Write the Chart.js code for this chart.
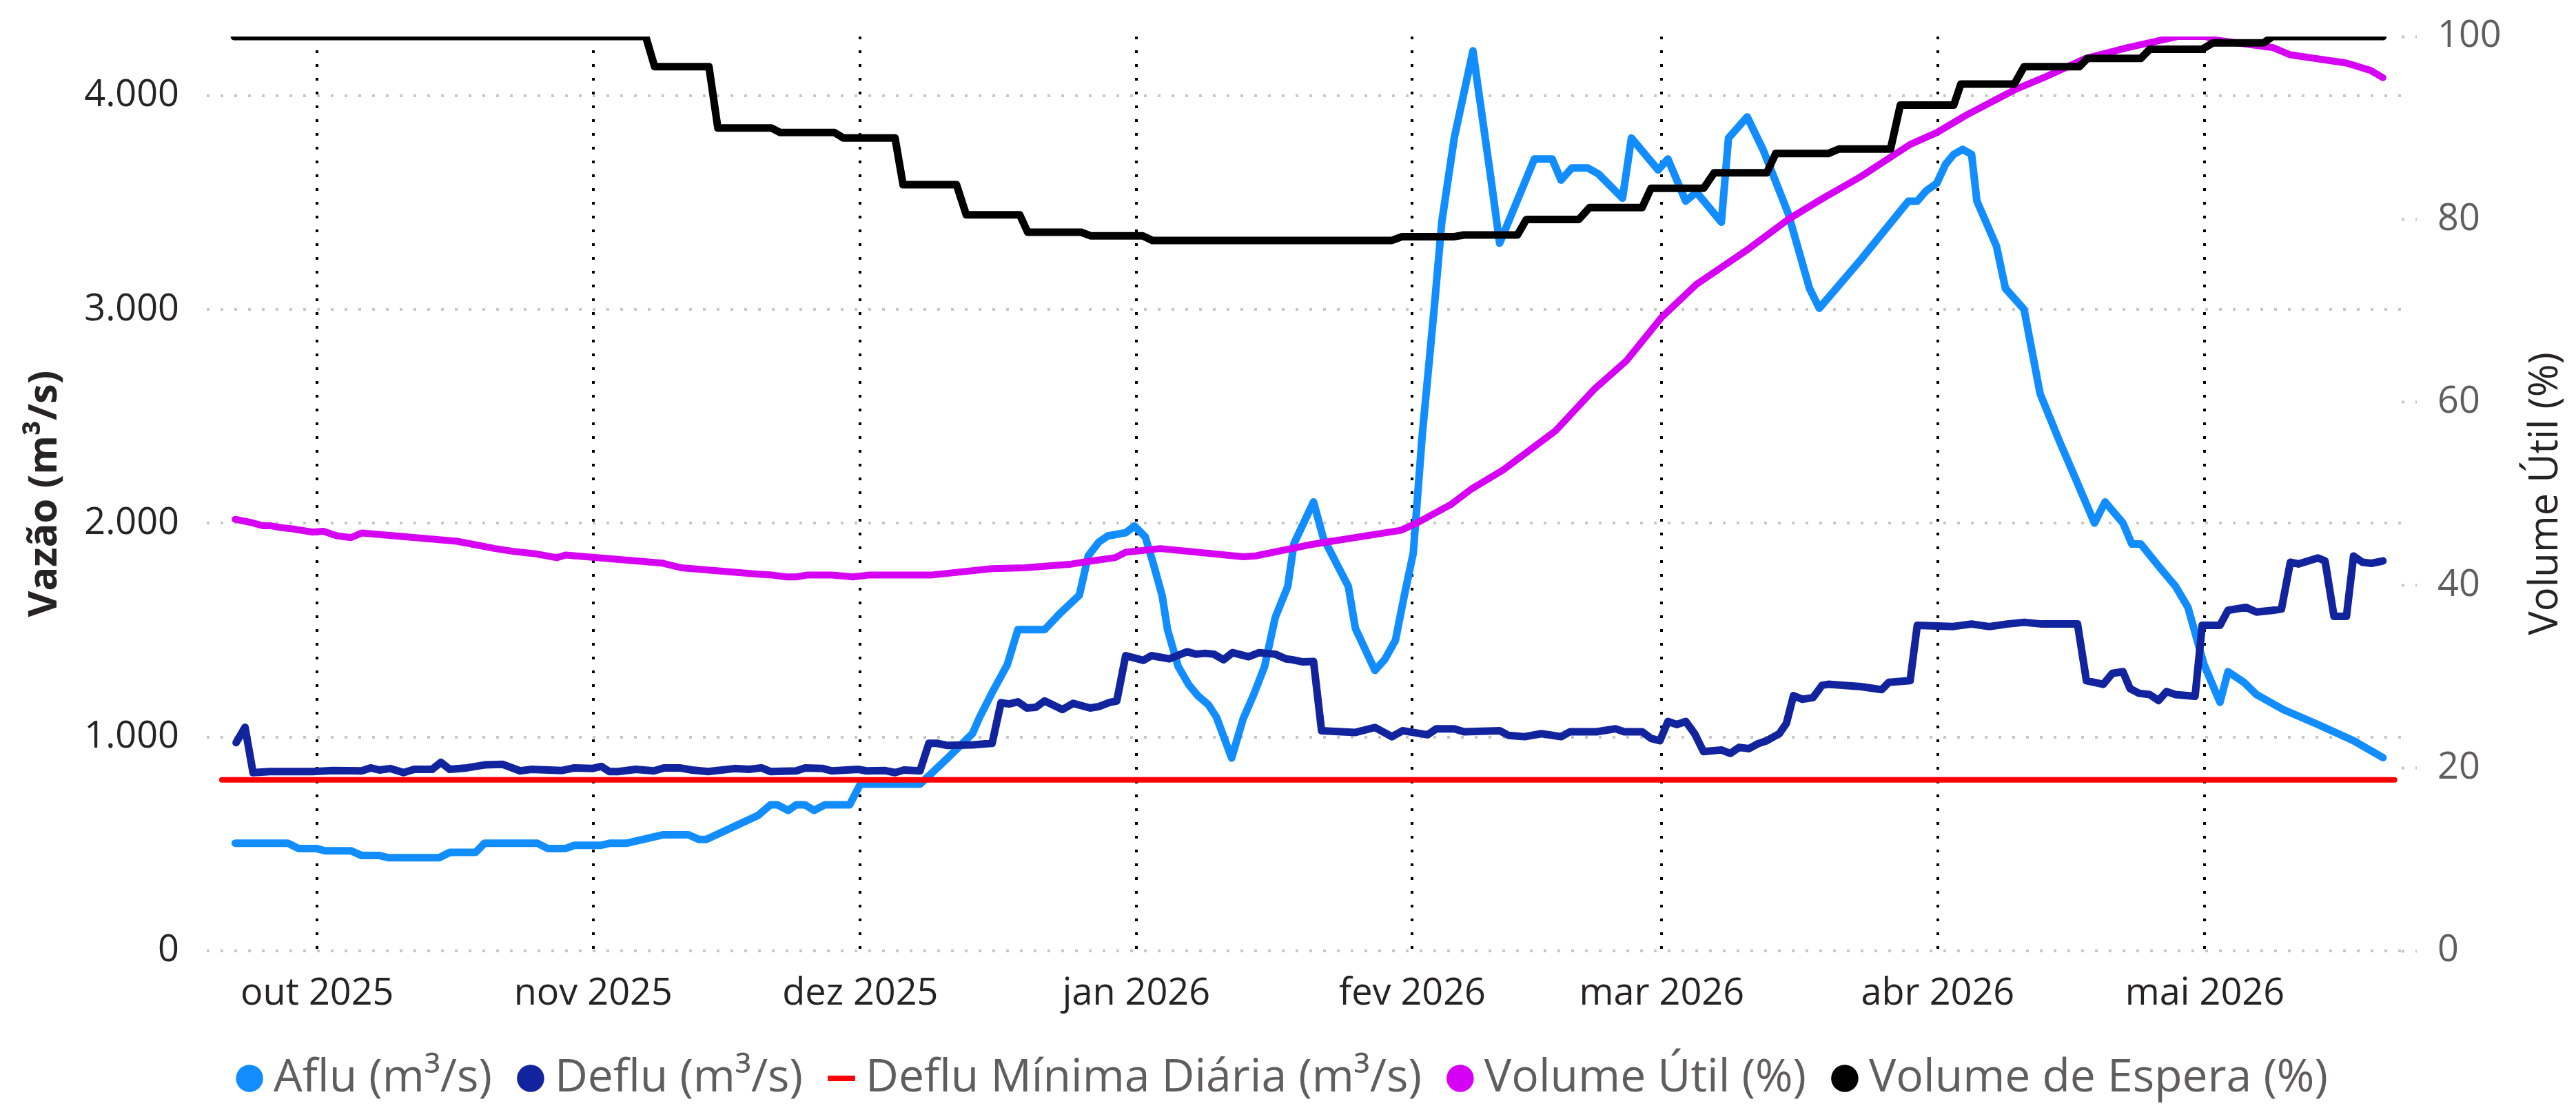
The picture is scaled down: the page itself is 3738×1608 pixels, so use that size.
<!DOCTYPE html>
<html>
<head>
<meta charset="utf-8">
<script src="https://cdn.jsdelivr.net/npm/chart.js@4.4.0/dist/chart.umd.min.js"></script>
<style>
    html, body { margin: 0; padding: 0; background: #ffffff; }
    #wrap { width: 3738px; height: 1608px; }
</style>
</head>
<body>
<div id="wrap"><canvas id="vazao_chart"></canvas></div>
<script>
// Days are counted from 1 Oct 2025 (day 0)
var monthDays = [0, 31, 61, 92, 123, 151, 182, 212];
var monthLabels = ["out 2025", "nov 2025", "dez 2025", "jan 2026", "fev 2026", "mar 2026", "abr 2026", "mai 2026"];
var vazaoTicks = [0, 1000, 2000, 3000, 4000];
var volumeTicks = [0, 20, 40, 60, 80, 100];

// Aflu (m3/s)
var afluDays = [-9.2, -3.3, -2.1, -0.1, 0.9, 3.8, 5.0, 7.0, 8.0, 13.7,
    14.9, 17.8, 18.8, 24.7, 25.9, 27.9, 28.9, 31.9, 32.9, 34.8,
    38.8, 41.7, 42.9, 43.7, 49.5, 50.9, 51.7, 52.9, 53.8, 54.8,
    55.8, 57.0, 59.8, 61.0, 67.7, 68.9, 70.8, 73.6, 74.4, 75.8,
    77.5, 78.7, 81.7, 83.5, 85.6, 86.6, 87.8, 88.8, 90.8, 91.8,
    93.0, 93.9, 94.9, 95.5, 96.7, 97.9, 98.9, 100.1, 101.0, 102.7,
    104.0, 105.2, 106.4, 107.6, 109.0, 109.7, 111.9, 113.0, 115.8, 116.6,
    118.8, 119.9, 121.1, 122.1, 123.1, 124.1, 125.5, 126.3, 127.7, 129.8,
    131.8, 132.8, 136.7, 138.7, 139.7, 140.9, 142.7, 143.9, 146.6, 147.6,
    150.6, 151.7, 153.7, 154.9, 157.7, 158.5, 160.6, 162.4, 163.2, 165.2,
    167.6, 168.7, 173.4, 178.7, 179.7, 180.7, 181.9, 182.9, 183.8, 184.8,
    185.8, 186.4, 188.6, 189.6, 191.7, 193.5, 195.7, 197.5, 199.6, 200.8,
    202.8, 203.8, 204.8, 207.0, 208.7, 210.1, 211.9, 213.7, 214.6, 216.4,
    217.8, 220.8, 224.7, 228.7, 232.0];
var afluValues = [504, 504, 479, 479, 468, 468, 446, 446, 436, 436,
    461, 461, 504, 504, 479, 479, 494, 494, 504, 504,
    543, 543, 521, 521, 633, 683, 683, 657, 683, 683,
    657, 683, 683, 780, 780, 827, 902, 1017, 1093, 1208,
    1338, 1503, 1503, 1582, 1664, 1848, 1913, 1941, 1956, 1987,
    1937, 1812, 1661, 1503, 1330, 1244, 1194, 1151, 1093, 902,
    1086, 1201, 1330, 1560, 1704, 1905, 2100, 1931, 1706, 1509,
    1312, 1363, 1453, 1664, 1861, 2409, 3028, 3408, 3802, 4210,
    3619, 3310, 3704, 3704, 3605, 3662, 3662, 3634, 3521, 3802,
    3653, 3704, 3507, 3549, 3408, 3802, 3901, 3746, 3662, 3450,
    3099, 3006, 3235, 3507, 3507, 3555, 3591, 3681, 3726, 3749,
    3726, 3507, 3296, 3099, 3000, 2606, 2381, 2207, 2001, 2100,
    2001, 1903, 1903, 1790, 1706, 1607, 1340, 1163, 1306, 1256,
    1199, 1129, 1059, 983, 904];

// Deflu (m3/s)
var defluDays = [-9.1, -8.1, -7.2, -5.3, -0.5, 1.8, 5.0, 6.0, 7.0, 8.2,
    9.7, 10.9, 12.9, 13.9, 14.9, 16.8, 18.8, 20.8, 22.8, 24.0,
    27.5, 28.9, 30.9, 31.9, 32.8, 33.8, 35.8, 37.8, 39.0, 40.7,
    42.1, 43.9, 46.9, 48.5, 49.9, 50.9, 53.8, 54.8, 56.8, 57.8,
    60.8, 61.7, 63.7, 64.9, 65.9, 67.7, 68.7, 69.6, 70.8, 73.6,
    75.8, 76.8, 77.7, 78.7, 79.7, 80.7, 81.7, 83.7, 84.9, 86.8,
    87.8, 89.0, 89.8, 90.8, 92.8, 93.7, 95.7, 97.7, 98.7, 99.7,
    100.7, 101.8, 102.8, 104.6, 105.8, 107.6, 108.8, 109.5, 110.7, 111.9,
    112.8, 116.6, 118.8, 120.7, 121.9, 124.7, 125.7, 127.7, 128.8, 132.8,
    133.8, 135.6, 137.5, 139.7, 140.7, 143.7, 145.8, 146.8, 148.8, 149.8,
    150.8, 151.7, 152.7, 153.7, 154.7, 155.7, 157.7, 158.7, 159.7, 160.8,
    161.8, 162.8, 164.2, 165.0, 165.8, 166.8, 168.0, 169.0, 169.7, 173.4,
    175.7, 176.5, 178.9, 179.7, 183.6, 185.8, 187.8, 189.8, 191.7, 193.7,
    197.7, 198.7, 200.6, 201.6, 202.8, 203.6, 204.6, 205.8, 206.8, 207.7,
    208.7, 210.9, 211.7, 213.7, 214.6, 216.6, 217.8, 219.6, 220.6, 221.6,
    222.5, 224.7, 225.5, 226.5, 227.9, 228.7, 229.7, 230.7, 232.0];
var defluValues = [974, 1046, 834, 839, 839, 844, 842, 856, 846, 853,
    834, 849, 849, 882, 849, 856, 870, 873, 842, 849,
    844, 856, 853, 863, 839, 839, 849, 842, 856, 856,
    846, 839, 853, 849, 856, 839, 842, 856, 853, 842,
    849, 842, 844, 834, 846, 842, 971, 971, 961, 964,
    971, 1161, 1155, 1165, 1136, 1139, 1169, 1129, 1158, 1136,
    1143, 1162, 1169, 1381, 1359, 1381, 1366, 1399, 1388, 1392,
    1388, 1362, 1395, 1376, 1395, 1388, 1366, 1362, 1352, 1354,
    1030, 1022, 1045, 1002, 1030, 1011, 1039, 1039, 1025, 1030,
    1008, 1002, 1016, 1002, 1025, 1025, 1039, 1025, 1025, 994,
    983, 1073, 1059, 1073, 1016, 932, 940, 924, 952, 946,
    969, 983, 1016, 1064, 1194, 1177, 1185, 1242, 1247, 1236,
    1222, 1256, 1264, 1523, 1517, 1529, 1517, 1529, 1537, 1529,
    1529, 1264, 1247, 1298, 1306, 1227, 1205, 1199, 1171, 1213,
    1199, 1191, 1523, 1523, 1593, 1607, 1585, 1593, 1599, 1818,
    1810, 1838, 1824, 1565, 1565, 1847, 1818, 1813, 1824];

// Deflu Minima Diaria (m3/s)
var minimaDays = [-10.7, 233.3];
var minimaValues = [800, 800];

// Volume Util (%)
var utilDays = [-9.2, -7.2, -6.1, -5.3, -4.1, -3.1, -0.5, 0.7, 2.2, 3.8,
    5.0, 15.7, 20.0, 22.0, 24.7, 26.9, 27.9, 38.8, 40.9, 49.5,
    51.1, 52.7, 53.8, 55.0, 57.8, 60.2, 61.9, 68.9, 75.8, 79.5,
    84.7, 86.6, 89.6, 90.8, 94.7, 104.0, 105.4, 111.4, 121.7, 123.3,
    127.3, 129.6, 133.2, 139.1, 143.5, 147.0, 151.0, 154.9, 160.8, 165.2,
    169.1, 173.4, 178.9, 181.9, 185.2, 190.7, 193.9, 198.6, 203.4, 208.9,
    212.1, 213.3, 219.6, 221.6, 227.9, 230.6, 232.0];
var utilValues = [47.2, 46.8, 46.5, 46.5, 46.3, 46.2, 45.8, 45.9, 45.4, 45.2,
    45.7, 44.8, 44.0, 43.7, 43.4, 43.0, 43.3, 42.4, 41.9, 41.2,
    41.1, 40.9, 40.9, 41.1, 41.1, 40.9, 41.1, 41.1, 41.8, 41.9,
    42.3, 42.6, 43.0, 43.6, 44.0, 43.1, 43.2, 44.4, 46.0, 46.7,
    48.8, 50.5, 52.6, 56.9, 61.5, 64.5, 69.3, 72.9, 76.8, 80.0,
    82.3, 84.7, 88.2, 89.5, 91.4, 94.2, 95.5, 97.6, 98.8, 100.0,
    100.0, 99.6, 98.8, 98.0, 97.1, 96.3, 95.5];

// Volume de Espera (%)
var esperaDays = [-9.3, 36.9, 37.9, 44.0, 45.0, 51.0, 52.0, 58.1, 59.1, 64.9,
    65.8, 71.8, 72.9, 78.9, 79.8, 85.8, 86.9, 92.7, 93.8, 120.7,
    121.8, 127.6, 128.8, 134.8, 135.8, 141.7, 142.9, 148.8, 149.8, 155.7,
    156.9, 162.8, 163.8, 169.7, 170.9, 176.7, 177.8, 183.8, 184.6, 190.6,
    191.7, 197.9, 198.8, 204.8, 205.8, 211.7, 212.9, 218.6, 219.6, 232.0];
var esperaValues = [100, 100, 96.7, 96.7, 90.0, 90.0, 89.5, 89.5, 88.9, 88.9,
    83.8, 83.8, 80.5, 80.5, 78.6, 78.6, 78.2, 78.2, 77.7, 77.7,
    78.1, 78.1, 78.3, 78.3, 80.0, 80.0, 81.3, 81.3, 83.4, 83.4,
    85.1, 85.1, 87.2, 87.2, 87.7, 87.7, 92.5, 92.5, 94.8, 94.8,
    96.7, 96.7, 97.6, 97.6, 98.6, 98.6, 99.3, 99.3, 100, 100];

var FONT = '"Segoe UI", "Open Sans", sans-serif';

function toPoints(days, values) {
    return days.map(function (d, i) { return { x: d, y: values[i] }; });
}

function formatThousands(v) {
    return String(v).replace(/\B(?=(\d{3})+(?!\d))/g, '.');
}

function lineSet(label, days, values, color, width, axis, order, style) {
    return {
        label: label,
        data: toPoints(days, values),
        borderColor: color,
        backgroundColor: color,
        borderWidth: width,
        pointRadius: 0,
        pointHoverRadius: 0,
        pointStyle: style || 'circle',
        tension: 0,
        borderJoinStyle: 'round',
        borderCapStyle: 'round',
        yAxisID: axis,
        order: order
    };
}

// Draw the right axis title reading bottom to top, like the original
var rightTitle = {
    id: 'rightTitle',
    afterDraw: function (chart) {
        var s = chart.scales.y2;
        var ctx = chart.ctx;
        ctx.save();
        ctx.translate(s.right - 44, (s.top + s.bottom) / 2);
        ctx.rotate(-Math.PI / 2);
        ctx.font = '58px ' + FONT;
        ctx.fillStyle = '#252423';
        ctx.textAlign = 'center';
        ctx.textBaseline = 'middle';
        ctx.fillText('Volume Útil (%)', 0, 0);
        ctx.restore();
    }
};

var ctx = document.getElementById('vazao_chart');
var vazao_chart = new Chart(ctx, {
    type: 'line',
    data: {
        datasets: [
            lineSet('Aflu (m³/s)', afluDays, afluValues, '#118DFF', 11, 'y', 5),
            lineSet('Deflu (m³/s)', defluDays, defluValues, '#12239E', 11, 'y', 4),
            lineSet('Deflu Mínima Diária (m³/s)', minimaDays, minimaValues, '#FF0000', 8, 'y', 3, 'line'),
            lineSet('Volume Útil (%)', utilDays, utilValues, '#D600F5', 10, 'y2', 2),
            lineSet('Volume de Espera (%)', esperaDays, esperaValues, '#000000', 11, 'y2', 1)
        ]
    },
    options: {
        responsive: true,
        maintainAspectRatio: false,
        animation: false,
        devicePixelRatio: 1,
        layout: { padding: { top: 53, bottom: 0, left: 0, right: 0 } },
        plugins: {
            tooltip: { enabled: false },
            legend: {
                position: 'bottom',
                align: 'center',
                labels: {
                    usePointStyle: true,
                    boxWidth: 4,
                    boxHeight: 28,
                    padding: 54,
                    color: '#605E5C',
                    font: { family: FONT, size: 66 },
                    sort: function (a, b) { return a.datasetIndex - b.datasetIndex; },
                    generateLabels: function (chart) {
                        var items = Chart.defaults.plugins.legend.labels.generateLabels(chart);
                        items.forEach(function (item) {
                            if (item.pointStyle === 'line') {
                                item.lineWidth = 8;
                            } else {
                                item.lineWidth = 0;
                            }
                            item.fontColor = '#605E5C';
                        });
                        return items;
                    }
                }
            }
        },
        scales: {
            x: {
                type: 'linear',
                min: -12.4,
                max: 234.1,
                afterBuildTicks: function (scale) {
                    scale.ticks = monthDays.map(function (d) { return { value: d }; });
                },
                afterFit: function (scale) { scale.height = 98; },
                ticks: {
                    autoSkip: false,
                    maxRotation: 0,
                    padding: 30,
                    color: '#252423',
                    font: { family: FONT, size: 54 },
                    callback: function (value) { return monthLabels[monthDays.indexOf(value)]; }
                },
                grid: { color: '#000000', lineWidth: 4, drawTicks: false },
                border: { display: false, dash: [4, 16] }
            },
            y: {
                position: 'left',
                min: 0,
                max: 4277,
                afterBuildTicks: function (scale) {
                    scale.ticks = vazaoTicks.map(function (v) { return { value: v }; });
                },
                afterFit: function (scale) {
                    scale.width = 300;
                    scale.paddingTop = 0;
                },
                ticks: {
                    padding: 40,
                    color: '#252423',
                    font: { family: FONT, size: 54 },
                    callback: function (value) { return formatThousands(value); }
                },
                grid: { color: '#C8C6C4', lineWidth: 4, drawTicks: false },
                border: { display: false, dash: [4, 16] },
                title: {
                    display: true,
                    text: 'Vazão (m³/s)',
                    color: '#252423',
                    font: { family: FONT, size: 58, weight: 'bold' },
                    padding: { top: 31, bottom: 0 }
                }
            },
            y2: {
                position: 'right',
                min: 0,
                max: 100,
                afterBuildTicks: function (scale) {
                    scale.ticks = volumeTicks.map(function (v) { return { value: v }; });
                },
                afterFit: function (scale) {
                    scale.width = 253;
                    scale.paddingTop = 0;
                },
                ticks: {
                    padding: 30,
                    color: '#605E5C',
                    font: { family: FONT, size: 54 }
                },
                grid: {
                    drawOnChartArea: false,
                    drawTicks: true,
                    tickLength: 22,
                    tickWidth: 4,
                    tickColor: '#C8C6C4',
                    tickBorderDash: [4, 16]
                },
                border: { display: false }
            }
        }
    },
    plugins: [rightTitle]
});
</script>
</body>
</html>
